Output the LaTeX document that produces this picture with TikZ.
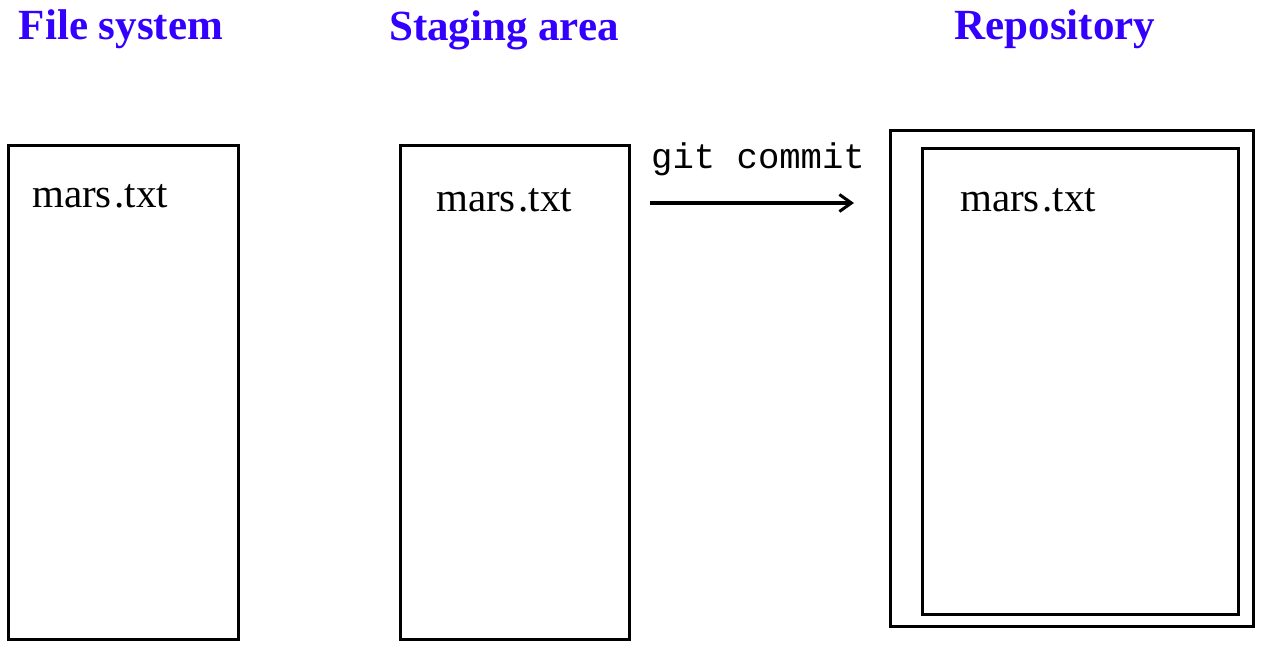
\documentclass[tikz,border=0pt]{standalone}
\usepackage{fontspec}
\setmainfont{Liberation Serif}
\setmonofont{Liberation Mono}
\usetikzlibrary{arrows.meta}
\definecolor{titleblue}{RGB}{51,0,255}
\begin{document}
\begin{tikzpicture}[x=1pt,y=-1pt,
  box/.style={draw=black,line width=3pt,fill=none,inner sep=0pt,minimum width=#1},
  ttl/.style={anchor=base,text=titleblue,font=\fontsize{43}{43}\selectfont\bfseries,inner sep=0pt},
  fname/.style={anchor=base west,font=\fontsize{41}{41}\selectfont,inner sep=0pt},
  cmd/.style={anchor=base west,font=\fontsize{35.6}{35.6}\selectfont\ttfamily,inner sep=0pt},
  conn/.style={line width=3.2pt,-{Straight Barb[length=12pt,width=17pt,line width=3pt]}}]
\useasboundingbox (0,0) rectangle (1274,652);
\fill[white] (0,0) rectangle (1274,652);
% titles
\node[ttl] (t1) at (121,40) {File system};
\node[ttl] (t2) at (504,41) {Staging area};
\node[ttl] (t3) at (1055,40) {Repository};
% boxes
\node[box=230pt,minimum height=494pt] (fs) at (123.5,392.5) {};
\node[box=229pt,minimum height=494pt] (sa) at (514.5,392.5) {};
\node[box=363pt,minimum height=496pt] (repo) at (1071.5,378.5) {};
\node[box=316pt,minimum height=466pt] (repoin) at (1080.5,381.5) {};
% file names
\node[fname] (f1) at (32,207.5) {mars\kern2.5pt.txt};
\node[fname] (f2) at (436,211.5) {mars\kern2.5pt.txt};
\node[fname] (f3) at (960,211.5) {mars\kern2.5pt.txt};
% command and arrow
\node[cmd] (gc) at (651,169) {git commit};
\coordinate (a1) at (650,203);
\coordinate (a2) at (854,203);
\draw[conn] (a1) -- (a2);
\end{tikzpicture}
\end{document}
